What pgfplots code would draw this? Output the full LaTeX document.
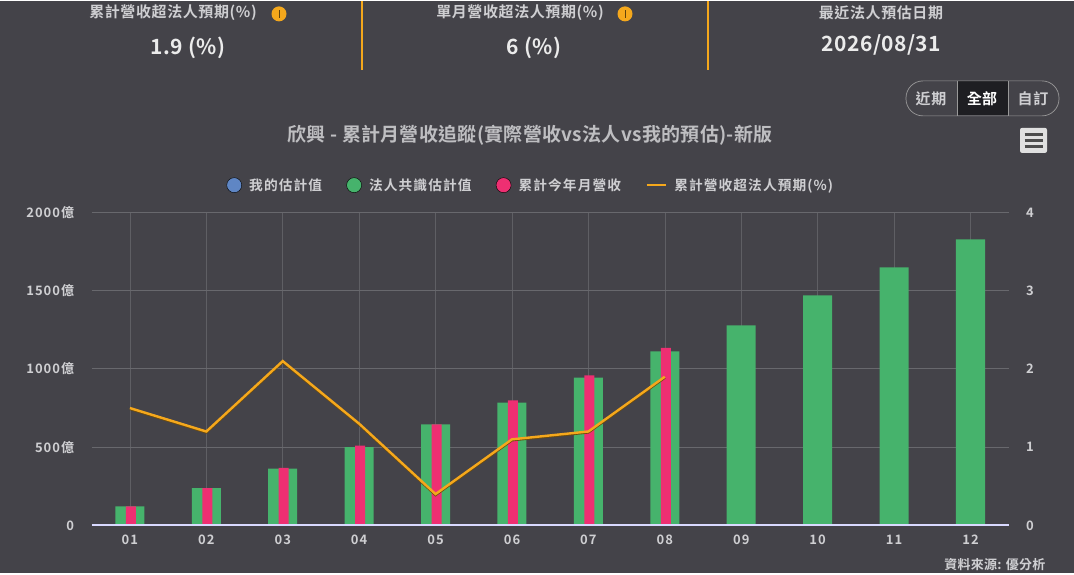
\documentclass[border=0pt]{standalone}
\usepackage{pgfplots}
\pgfplotsset{compat=1.18}
\usepackage{fontspec}
\setmainfont{Noto Sans CJK TC}[LetterSpace=3]
\newfontfamily\cjkm{Noto Sans CJK TC Bold}[LetterSpace=4]
\newfontfamily\cjkt{Noto Sans CJK TC Bold}[LetterSpace=1.5]
\newfontfamily\cjkl{Noto Sans CJK TC Bold}[LetterSpace=8]
\newfontfamily\cjkb{Noto Sans CJK TC Bold}[LetterSpace=2]
\newcommand{\fs}[1]{\fontsize{#1}{#1}\selectfont}
\definecolor{bgc}{HTML}{444349}
\definecolor{txt}{HTML}{CFCFD2}
\definecolor{grn}{HTML}{46B36C}
\definecolor{pnk}{HTML}{EE2F72}
\definecolor{blu}{HTML}{5F86C4}
\definecolor{org}{HTML}{F5A81C}
\definecolor{grd}{HTML}{68686D}
\definecolor{btn}{HTML}{1E1E22}
\begin{document}
\begin{tikzpicture}[x=1pt,y=-1pt]
\fill[bgc] (0,0) rectangle (1074,572);
% header
\draw[org,line width=1.8pt] (362,0)--(362,69);
\draw[org,line width=1.8pt] (708,0)--(708,69);
\node[text=txt,font=\cjkm\fs{15}] at (173,12) {累計營收超法人預期(\%)};
\node[text=txt,font=\cjkm\fs{15}] at (520,12) {單月營收超法人預期(\%)};
\node[text=txt,font=\cjkm\fs{15}] at (881,12) {最近法人預估日期};
\node[text=white!92!black,font=\cjkb\fs{21}] at (188,47) {1.9 (\%)};
\node[text=white!92!black,font=\cjkb\fs{21}] at (534,47) {6 (\%)};
\node[text=white!92!black,font=\cjkb\fs{21}] at (881.5,44) {2026/08/31};
\foreach \cx in {279,625}{
\fill[org] (\cx,13) circle (7.5pt);
\draw[black!60!org,line width=0.9pt] (\cx,9.5)--(\cx,17);
}
% range buttons
\fill[btn] (957,80.5) rectangle (1008,114.5);
\draw[gray!80,line width=0.7pt,rounded corners=17pt] (906,80) rectangle (1059,115);
\draw[gray!80,line width=0.7pt] (957,80)--(957,115) (1008,80)--(1008,115);
\node[text=txt,font=\cjkm\fs{15}] at (931,98) {近期};
\node[text=white,font=\cjkb\fs{15}] at (982,98) {全部};
\node[text=txt,font=\cjkm\fs{15}] at (1033,98) {自訂};
% menu icon
\fill[white!88!black,rounded corners=2pt] (1020,127) rectangle (1047,152);
\draw[gray!60!black,line width=3pt] (1024.5,133.5)--(1042.5,133.5) (1024.5,139.5)--(1042.5,139.5) (1024.5,145.5)--(1042.5,145.5);
% title, credit
\node[text=txt!92!black,font=\cjkt\fs{19}] at (530,134) {欣興 - 累計月營收追蹤(實際營收vs法人vs我的預估)-新版};
\node[text=txt,font=\cjkb\fs{13},anchor=east] at (1049,564) {資料來源: 優分析};
% bars
\begin{axis}[at={(91.7pt,-524.5pt)},anchor=south west,scale only axis,width=917pt,height=313pt,
  xmin=-0.5,xmax=11.5,ymin=0,ymax=2000,
  axis x line=bottom,axis y line=left,
  x axis line style={-,draw=none},
  y axis line style={draw=none},
  xtick={0,...,11},xticklabels={01,02,03,04,05,06,07,08,09,10,11,12},
  ytick={0,500,1000,1500,2000},yticklabels={0,500億,1000億,1500億,2000億},
  tick style={draw=none},major tick length=0pt,
  xmajorgrids,ymajorgrids,
  x grid style={grd!75!bgc,line width=0.6pt},y grid style={grd,line width=0.9pt},
  ticklabel style={text=txt,font=\cjkl\fs{13}},
  xticklabel style={yshift=-6pt},
  yticklabel style={xshift=-14pt},
  ybar,bar width=29pt,
  clip=false]
\addplot[fill=grn,draw=none,bar shift=0pt] coordinates {(0,121)(1,238)(2,362)(3,500)(4,645)(5,784)(6,944)(7,1112)(8,1278)(9,1470)(10,1649)(11,1827)};
\addplot[fill=pnk,draw=none,bar shift=1pt,bar width=10pt] coordinates {(0,121)(1,238)(2,368)(3,509)(4,645)(5,799)(6,958)(7,1135)};
\end{axis}
% line
\begin{axis}[at={(91.7pt,-524.5pt)},anchor=south west,scale only axis,width=917pt,height=313pt,
  xmin=-0.5,xmax=11.5,ymin=0,ymax=4,
  axis x line=bottom,axis y line=right,
  x axis line style={-,line width=2pt,draw=white!85!blue},
  y axis line style={draw=none},
  xtick=\empty,
  ytick={0,1,2,3,4},yticklabels={0,1,2,3,4},
  tick style={draw=none},major tick length=0pt,
  ticklabel style={text=txt,font=\cjkl\fs{13}},
  yticklabel style={xshift=14pt},
  legend columns=4,
  legend style={at={(0.479,1.087)},anchor=center,draw=none,fill=none,text=txt,font=\cjkl\fs{13.7},
    /tikz/every odd column/.append style={column sep=5.5pt},
    /tikz/every even column/.append style={column sep=22.5pt},inner sep=0pt},
  legend cell align=left,clip=false]
\addlegendimage{only marks,mark=*,mark size=7.5pt,draw=none,fill=blu,mark options={draw=none,fill=blu}}
\addlegendentry{我的估計值}
\addlegendimage{only marks,mark=*,mark size=7.5pt,draw=none,mark options={draw=none,fill=grn}}
\addlegendentry{法人共識估計值}
\addlegendimage{only marks,mark=*,mark size=7.5pt,draw=none,mark options={draw=none,fill=pnk}}
\addlegendentry{累計今年月營收}
\addlegendimage{org,line width=2.2pt,legend image code/.code={\draw[org,line width=2.2pt] (0pt,0pt)--(19pt,0pt);}}
\addlegendentry{累計營收超法人預期(\%)}
\addplot[forget plot,draw=black!55!org,line width=2.6pt,yshift=-0.8pt] coordinates {(0,1.5)(1,1.2)(2,2.1)(3,1.3)(4,0.4)(5,1.1)(6,1.2)(7,1.9)};
\addplot[forget plot,org,line width=2.4pt] coordinates {(0,1.5)(1,1.2)(2,2.1)(3,1.3)(4,0.4)(5,1.1)(6,1.2)(7,1.9)};
\end{axis}
\end{tikzpicture}
\end{document}
